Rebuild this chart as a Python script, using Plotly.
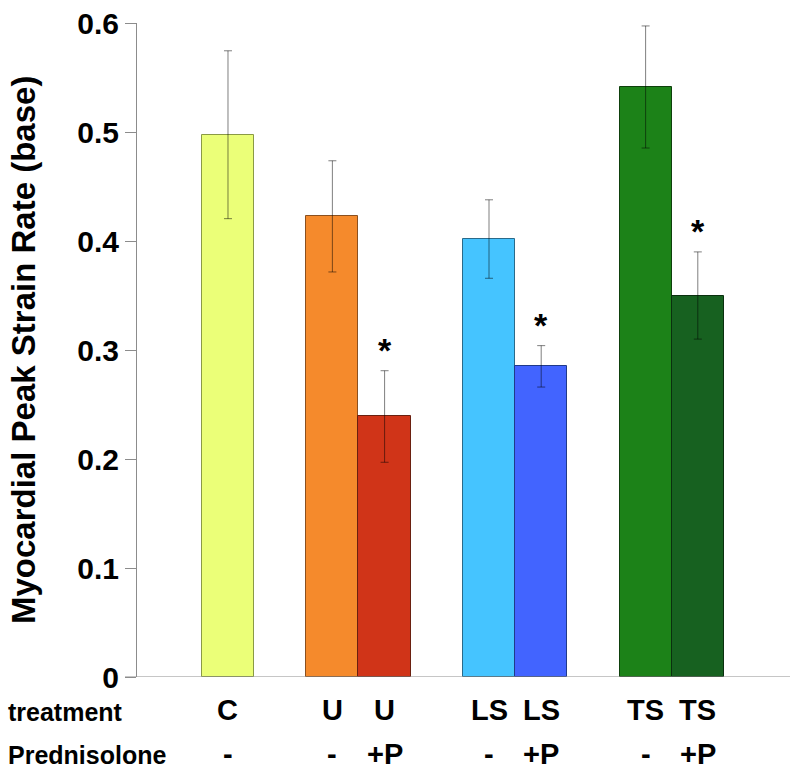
import plotly.graph_objects as go

# ---- data ----
treatment = ["C", "U", "U", "LS", "LS", "TS", "TS"]
prednisolone = ["-", "-", "+P", "-", "+P", "-", "+P"]
group_id = [0, 1, 1, 2, 2, 3, 3]
strain_rate = [0.4975, 0.4226, 0.239, 0.4018, 0.285, 0.5413, 0.350]
error = [0.077, 0.051, 0.042, 0.036, 0.019, 0.056, 0.040]
significant = [False, False, True, False, True, False, True]
y_ticks = [0, 0.1, 0.2, 0.3, 0.4, 0.5, 0.6]
y_ticktext = ["0", "0.1", "0.2", "0.3", "0.4", "0.5", "0.6"]
row_labels = ["treatment", "Prednisolone"]
y_title = "Myocardial Peak Strain Rate (base)"

# ---- styles ----
fill_colors = ["#EBFF78", "#F58A2C", "#D03418", "#45C4FF", "#4264FF", "#1C8218", "#176120"]
line_colors = ["#8A9A45", "#8A5020", "#6A2010", "#2A6A8A", "#203A8A", "#0E400C", "#0A300F"]

# x positions: one-bar gap between groups, adjacent bars within group
positions = []
pos = 0
prev_g = None
for g in group_id:
    if prev_g is not None:
        pos += 2 if g != prev_g else 1
    positions.append(pos)
    prev_g = g

FONT = "Liberation Sans, Arial, sans-serif"
PLOT_W = 653  # plot area width in px

fig = go.Figure()
fig.add_trace(go.Bar(
    x=positions, y=strain_rate, width=1.0,
    marker=dict(color=fill_colors, line=dict(color=line_colors, width=1)),
    error_y=dict(type="data", array=error, visible=True,
                 color="rgba(0,0,0,0.5)", thickness=1, width=4),
    showlegend=False, hoverinfo="skip",
))

annotations = []
# significance asterisks
for x, v, e, s in zip(positions, strain_rate, error, significant):
    if s:
        annotations.append(dict(x=x, y=v + e, xref="x", yref="y", text="*",
                                showarrow=False, yanchor="bottom", yshift=0,
                                font=dict(family=FONT, size=34, color="black", weight="bold")))
# category label rows
for x, t, p in zip(positions, treatment, prednisolone):
    annotations.append(dict(x=x, y=-0.0505, xref="x", yref="paper", text=t,
                            showarrow=False, yanchor="middle",
                            font=dict(family=FONT, size=29, color="black", weight="bold")))
    annotations.append(dict(x=x, y=-0.1177, xref="x", yref="paper", text=p,
                            showarrow=False, yanchor="middle",
                            font=dict(family=FONT, size=29, color="black", weight="bold")))
# row labels at left
for i, lab in enumerate(row_labels):
    annotations.append(dict(x=(6 - 137) / PLOT_W, y=[-0.0535, -0.119][i], xref="paper", yref="paper",
                            text=lab, showarrow=False, xanchor="left", yanchor="middle",
                            font=dict(family=FONT, size=25, color="black", weight="bold")))
# y-axis title
annotations.append(dict(x=(23 - 137) / PLOT_W, y=0.5, xref="paper", yref="paper",
                        text=y_title, textangle=-90, showarrow=False,
                        xanchor="center", yanchor="middle",
                        font=dict(family=FONT, size=33, color="black", weight="bold")))

fig.update_layout(
    width=798, height=773,
    margin=dict(l=137, r=8, t=23, b=96, autoexpand=False),
    paper_bgcolor="white", plot_bgcolor="white",
    bargap=0,
    xaxis=dict(range=[-1.743, 10.766], showticklabels=False, showgrid=False,
               zeroline=False, showline=False, ticks=""),
    yaxis=dict(range=[0, 0.6], tickvals=y_ticks, ticktext=y_ticktext,
               showgrid=False, zeroline=False, showline=True, linecolor="#8C8C8C",
               linewidth=1, ticks="outside", ticklen=11, tickcolor="#8C8C8C",
               ticklabeloverflow="allow",
               tickfont=dict(family=FONT, size=30, color="black", weight="bold")),
    annotations=annotations,
    shapes=[dict(type="line", xref="paper", yref="y", x0=-12 / PLOT_W, x1=1.0, y0=0, y1=0,
                 line=dict(color="#8C8C8C", width=1))],
)

# remove the browser's default 8px body margin so the figure fills the window
fig.write_html("out.html", config={"displayModeBar": False},
               post_script="document.body.style.margin='0px';")
